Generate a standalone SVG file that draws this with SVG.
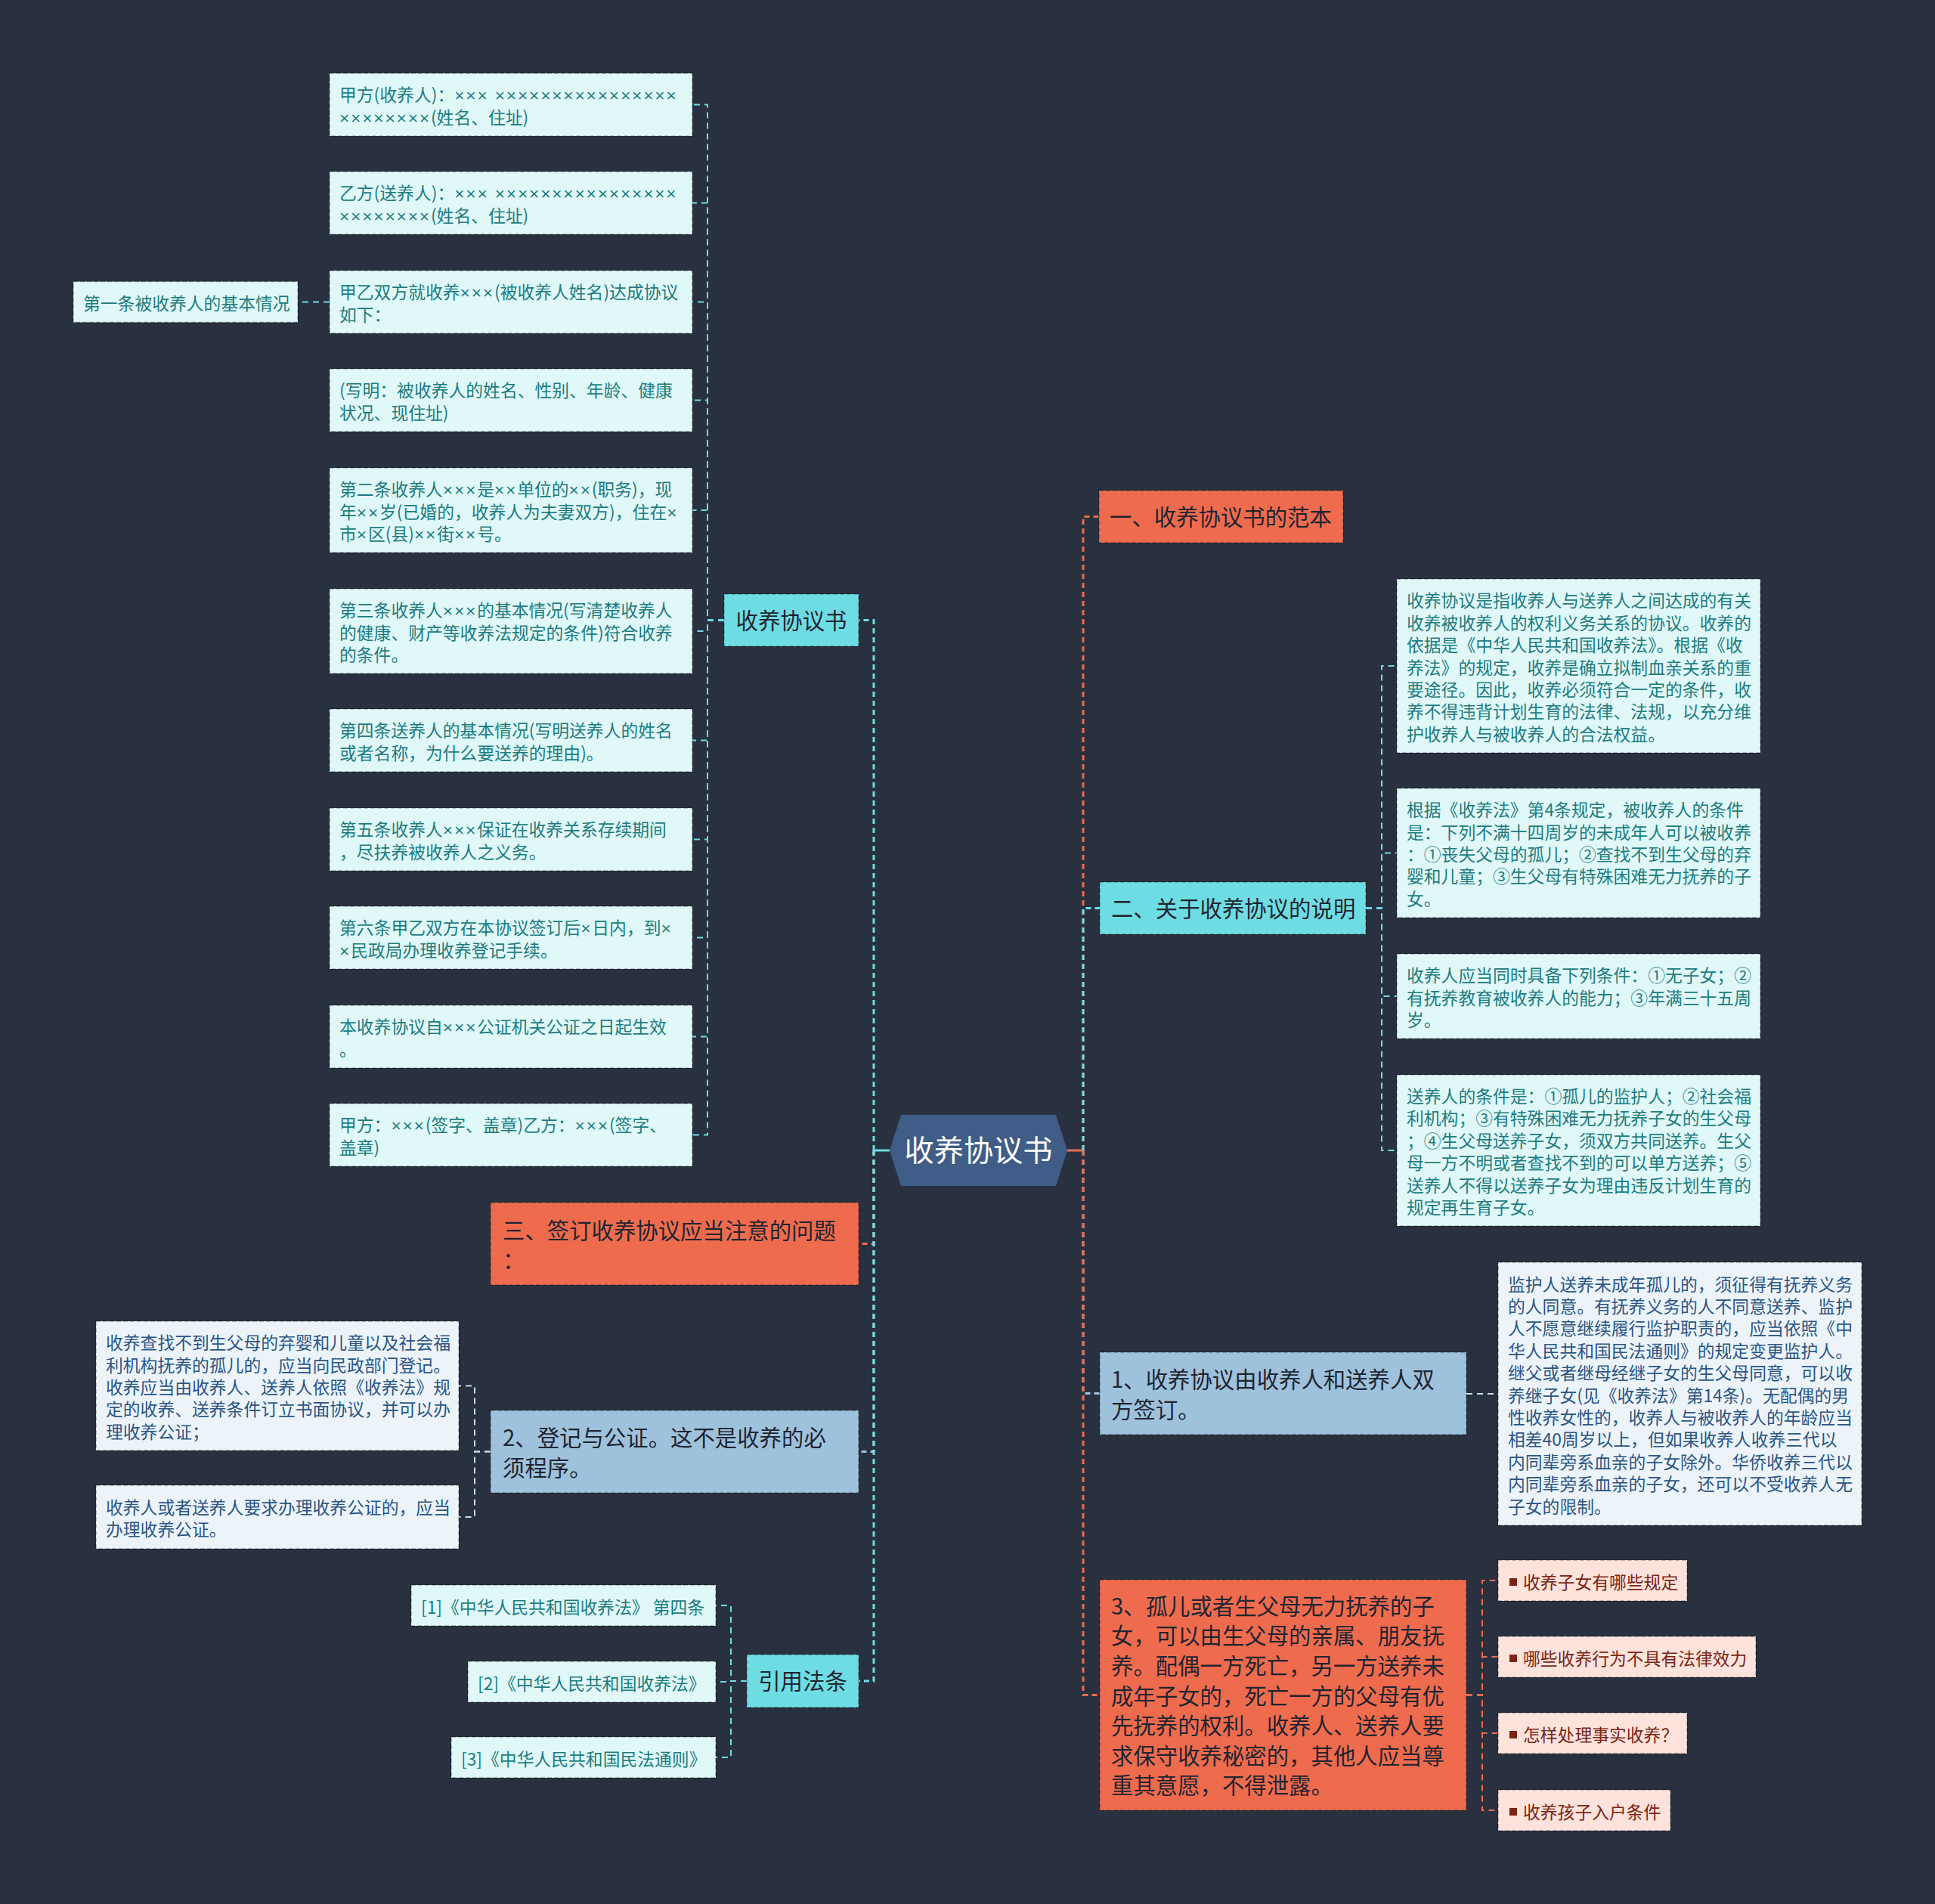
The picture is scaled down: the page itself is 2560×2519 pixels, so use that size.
<svg xmlns="http://www.w3.org/2000/svg" width="2560" height="2519" viewBox="0 0 2560 2519">
<style>
text{font-family:"Noto Sans CJK SC","Microsoft YaHei",sans-serif}
.x{font-family:"Liberation Sans",Arial,sans-serif;letter-spacing:1.8px}
.big{font-size:29.4px;fill:#1f2430}
.sm{font-size:22.8px}
.teal{fill:#1d7c80}
.navy{fill:#2b5586}
.red{fill:#7c2414}
.root{font-size:39.2px;fill:#ffffff}
.nb{stroke:#000;stroke-opacity:0.3;stroke-width:1.6;stroke-dasharray:6 3}
.cyan{fill:#6ddde3}
.orange{fill:#ee6b4e}
.bgray{fill:#9ec2dc}
.lcyan{fill:#e0f8f8}
.lblue{fill:#ecf4fa}
.pink{fill:#fde3db}
.c{fill:none;stroke-width:3;stroke-dasharray:7 5}
.s{fill:none;stroke-width:2;stroke-dasharray:8 6}
.kc{stroke:#6ddde3}
.ko{stroke:#ee6b4e}
.kb{stroke:#9ec2dc}
.kl{stroke:#c6dcec}
</style>
<rect width="2560" height="2519" fill="#293140"/>

<g id="connectors">
<line x1="1177" y1="1522" x2="1156" y2="1522" stroke="#6ddde3" stroke-width="3"/>
<line x1="1412" y1="1522" x2="1433" y2="1522" stroke="#ee6b4e" stroke-width="3"/>
<path class="c kc" d="M1156 1522 V820.5 H1136"/>
<path class="c ko" d="M1156 1522 V1645.5 H1136"/>
<path class="c kb" d="M1156 1522 V1920.5 H1136"/>
<path class="c kc" d="M1156 1522 V2224 H1136"/>
<path class="c ko" d="M1433 1522 V683.5 H1454"/>
<path class="c kc" d="M1433 1522 V1201.5 H1455"/>
<path class="c kb" d="M1433 1522 V1843.5 H1455"/>
<path class="c ko" d="M1433 1522 V2242.5 H1455"/>

<path class="s kc" d="M958 820.5 H936 V138.5 H916"/>
<path class="s kc" d="M958 820.5 H936 V268.5 H916"/>
<path class="s kc" d="M958 820.5 H936 V399.5 H916"/>
<path class="s kc" d="M958 820.5 H936 V529.5 H916"/>
<path class="s kc" d="M958 820.5 H936 V675 H916"/>
<path class="s kc" d="M958 820.5 H936 V835 H916"/>
<path class="s kc" d="M958 820.5 H936 V979.5 H916"/>
<path class="s kc" d="M958 820.5 H936 V1110.5 H916"/>
<path class="s kc" d="M958 820.5 H936 V1240.5 H916"/>
<path class="s kc" d="M958 820.5 H936 V1371.5 H916"/>
<path class="s kc" d="M958 820.5 H936 V1501.5 H916"/>
<path class="s kc" d="M436 399.5 H394"/>

<path class="s kl" d="M649 1920.5 H628 V1833.5 H607"/>
<path class="s kl" d="M649 1920.5 H628 V2007 H607"/>

<path class="s kc" d="M988 2224 H967 V2124 H947"/>
<path class="s kc" d="M988 2224 H967 V2225 H947"/>
<path class="s kc" d="M988 2224 H967 V2325 H947"/>

<path class="s kc" d="M1807 1201.5 H1828 V881 H1848"/>
<path class="s kc" d="M1807 1201.5 H1828 V1128.5 H1848"/>
<path class="s kc" d="M1807 1201.5 H1828 V1318 H1848"/>
<path class="s kc" d="M1807 1201.5 H1828 V1522 H1848"/>

<path class="s kl" d="M1940 1844 H1982"/>

<path class="s ko" d="M1940 2242.5 H1961 V2091 H1982"/>
<path class="s ko" d="M1940 2242.5 H1961 V2192 H1982"/>
<path class="s ko" d="M1940 2242.5 H1961 V2293 H1982"/>
<path class="s ko" d="M1940 2242.5 H1961 V2395 H1982"/>
</g>

<g id="root">
<polygon points="1177,1522 1192,1475 1397,1475 1412,1522 1397,1569 1192,1569" fill="#3f5d86"/>
<text class="root" x="1294.5" y="1536" text-anchor="middle">收养协议书</text>
</g>

<g id="n-xieyishu">
<rect class="cyan nb" x="958" y="786" width="178" height="69"/>
<text class="big" x="1047" y="831.5" text-anchor="middle">收养协议书</text>
</g>

<g id="n-l1">
<rect class="lcyan nb" x="436" y="97" width="480" height="83"/>
<text class="sm teal"><tspan x="449" y="134.3">甲方(收养人)：<tspan class="x">××× ××××××××××××××××</tspan></tspan><tspan x="449" y="163.7"><tspan class="x">××××××××</tspan>(姓名、住址)</tspan></text>
</g>
<g id="n-l2">
<rect class="lcyan nb" x="436" y="227" width="480" height="83"/>
<text class="sm teal"><tspan x="449" y="264.3">乙方(送养人)：<tspan class="x">××× ××××××××××××××××</tspan></tspan><tspan x="449" y="293.7"><tspan class="x">××××××××</tspan>(姓名、住址)</tspan></text>
</g>
<g id="n-l3">
<rect class="lcyan nb" x="436" y="358" width="480" height="83"/>
<text class="sm teal"><tspan x="449" y="395.3">甲乙双方就收养<tspan class="x">×××</tspan>(被收养人姓名)达成协议</tspan><tspan x="449" y="424.7">如下：</tspan></text>
</g>
<g id="n-l3a">
<rect class="lcyan nb" x="97" y="372.5" width="297" height="54"/>
<text class="sm teal" x="110" y="410">第一条被收养人的基本情况</text>
</g>
<g id="n-l4">
<rect class="lcyan nb" x="436" y="488" width="480" height="83"/>
<text class="sm teal"><tspan x="449" y="525.3">(写明：被收养人的姓名、性别、年龄、健康</tspan><tspan x="449" y="554.7">状况、现住址)</tspan></text>
</g>
<g id="n-l5">
<rect class="lcyan nb" x="436" y="619" width="480" height="112"/>
<text class="sm teal"><tspan x="449" y="656.1">第二条收养人<tspan class="x">×××</tspan>是<tspan class="x">××</tspan>单位的<tspan class="x">××</tspan>(职务)，现</tspan><tspan x="449" y="685.5">年<tspan class="x">××</tspan>岁(已婚的，收养人为夫妻双方)，住在<tspan class="x">×</tspan></tspan><tspan x="449" y="714.9">市<tspan class="x">×</tspan>区(县)<tspan class="x">××</tspan>街<tspan class="x">××</tspan>号。</tspan></text>
</g>
<g id="n-l6">
<rect class="lcyan nb" x="436" y="779" width="480" height="112"/>
<text class="sm teal"><tspan x="449" y="816.1">第三条收养人<tspan class="x">×××</tspan>的基本情况(写清楚收养人</tspan><tspan x="449" y="845.5">的健康、财产等收养法规定的条件)符合收养</tspan><tspan x="449" y="874.9">的条件。</tspan></text>
</g>
<g id="n-l7">
<rect class="lcyan nb" x="436" y="938" width="480" height="83"/>
<text class="sm teal"><tspan x="449" y="975.3">第四条送养人的基本情况(写明送养人的姓名</tspan><tspan x="449" y="1004.7">或者名称，为什么要送养的理由)。</tspan></text>
</g>
<g id="n-l8">
<rect class="lcyan nb" x="436" y="1069" width="480" height="83"/>
<text class="sm teal"><tspan x="449" y="1106.3">第五条收养人<tspan class="x">×××</tspan>保证在收养关系存续期间</tspan><tspan x="449" y="1135.7">，尽扶养被收养人之义务。</tspan></text>
</g>
<g id="n-l9">
<rect class="lcyan nb" x="436" y="1199" width="480" height="83"/>
<text class="sm teal"><tspan x="449" y="1236.3">第六条甲乙双方在本协议签订后<tspan class="x">×</tspan>日内，到<tspan class="x">×</tspan></tspan><tspan x="449" y="1265.7"><tspan class="x">×</tspan>民政局办理收养登记手续。</tspan></text>
</g>
<g id="n-l10">
<rect class="lcyan nb" x="436" y="1330" width="480" height="83"/>
<text class="sm teal"><tspan x="449" y="1367.3">本收养协议自<tspan class="x">×××</tspan>公证机关公证之日起生效</tspan><tspan x="449" y="1396.7">。</tspan></text>
</g>
<g id="n-l11">
<rect class="lcyan nb" x="436" y="1460" width="480" height="83"/>
<text class="sm teal"><tspan x="449" y="1497.3">甲方：<tspan class="x">×××</tspan>(签字、盖章)乙方：<tspan class="x">×××</tspan>(签字、</tspan><tspan x="449" y="1526.7">盖章)</tspan></text>
</g>

<g id="n-san">
<rect class="orange nb" x="649" y="1591" width="487" height="109"/>
<text class="big"><tspan x="665" y="1638.5">三、签订收养协议应当注意的问题</tspan><tspan x="665" y="1678">：</tspan></text>
</g>

<g id="n-er2">
<rect class="bgray nb" x="649" y="1866" width="487" height="109"/>
<text class="big"><tspan x="665" y="1913">2、登记与公证。这不是收养的必</tspan><tspan x="665" y="1952.5">须程序。</tspan></text>
</g>
<g id="n-er2a">
<rect class="lblue nb" x="127" y="1748" width="480" height="171"/>
<text class="sm navy"><tspan x="140" y="1785.2">收养查找不到生父母的弃婴和儿童以及社会福</tspan><tspan x="140" y="1814.6">利机构抚养的孤儿的，应当向民政部门登记。</tspan><tspan x="140" y="1844">收养应当由收养人、送养人依照《收养法》规</tspan><tspan x="140" y="1873.4">定的收养、送养条件订立书面协议，并可以办</tspan><tspan x="140" y="1902.8">理收养公证；</tspan></text>
</g>
<g id="n-er2b">
<rect class="lblue nb" x="127" y="1965" width="480" height="84"/>
<text class="sm navy"><tspan x="140" y="2002.8">收养人或者送养人要求办理收养公证的，应当</tspan><tspan x="140" y="2032.2">办理收养公证。</tspan></text>
</g>

<g id="n-ref">
<rect class="cyan nb" x="988" y="2189" width="148" height="70"/>
<text class="big" x="1062" y="2235" text-anchor="middle">引用法条</text>
</g>
<g id="n-ref1">
<rect class="lcyan nb" x="544" y="2097" width="403" height="54"/>
<text class="sm teal" x="557" y="2134.5">[1]《中华人民共和国收养法》 第四条</text>
</g>
<g id="n-ref2">
<rect class="lcyan nb" x="619" y="2198" width="328" height="54"/>
<text class="sm teal" x="632" y="2235.5">[2]《中华人民共和国收养法》</text>
</g>
<g id="n-ref3">
<rect class="lcyan nb" x="597" y="2298" width="350" height="54"/>
<text class="sm teal" x="610" y="2335.5">[3]《中华人民共和国民法通则》</text>
</g>

<g id="n-yi">
<rect class="orange nb" x="1454" y="649" width="323" height="69"/>
<text class="big" x="1468" y="694.5">一、收养协议书的范本</text>
</g>

<g id="n-er">
<rect class="cyan nb" x="1455" y="1167" width="352" height="69"/>
<text class="big" x="1470" y="1212.5">二、关于收养协议的说明</text>
</g>
<g id="n-era">
<rect class="lcyan nb" x="1848" y="766" width="481" height="230"/>
<text class="sm teal"><tspan x="1861" y="803.3">收养协议是指收养人与送养人之间达成的有关</tspan><tspan x="1861" y="832.7">收养被收养人的权利义务关系的协议。收养的</tspan><tspan x="1861" y="862.1">依据是《中华人民共和国收养法》。根据《收</tspan><tspan x="1861" y="891.5">养法》的规定，收养是确立拟制血亲关系的重</tspan><tspan x="1861" y="920.9">要途径。因此，收养必须符合一定的条件，收</tspan><tspan x="1861" y="950.3">养不得违背计划生育的法律、法规，以充分维</tspan><tspan x="1861" y="979.7">护收养人与被收养人的合法权益。</tspan></text>
</g>
<g id="n-erb">
<rect class="lcyan nb" x="1848" y="1043" width="481" height="171"/>
<text class="sm teal"><tspan x="1861" y="1080.2">根据《收养法》第4条规定，被收养人的条件</tspan><tspan x="1861" y="1109.6">是：下列不满十四周岁的未成年人可以被收养</tspan><tspan x="1861" y="1139">：①丧失父母的孤儿；②查找不到生父母的弃</tspan><tspan x="1861" y="1168.4">婴和儿童；③生父母有特殊困难无力抚养的子</tspan><tspan x="1861" y="1197.8">女。</tspan></text>
</g>
<g id="n-erc">
<rect class="lcyan nb" x="1848" y="1262" width="481" height="112"/>
<text class="sm teal"><tspan x="1861" y="1299.1">收养人应当同时具备下列条件：①无子女；②</tspan><tspan x="1861" y="1328.5">有抚养教育被收养人的能力；③年满三十五周</tspan><tspan x="1861" y="1357.9">岁。</tspan></text>
</g>
<g id="n-erd">
<rect class="lcyan nb" x="1848" y="1422" width="481" height="200"/>
<text class="sm teal"><tspan x="1861" y="1459">送养人的条件是：①孤儿的监护人；②社会福</tspan><tspan x="1861" y="1488.4">利机构；③有特殊困难无力抚养子女的生父母</tspan><tspan x="1861" y="1517.8">；④生父母送养子女，须双方共同送养。生父</tspan><tspan x="1861" y="1547.2">母一方不明或者查找不到的可以单方送养；⑤</tspan><tspan x="1861" y="1576.6">送养人不得以送养子女为理由违反计划生育的</tspan><tspan x="1861" y="1606">规定再生育子女。</tspan></text>
</g>

<g id="n-one">
<rect class="bgray nb" x="1455" y="1789" width="485" height="109"/>
<text class="big"><tspan x="1470" y="1836">1、收养协议由收养人和送养人双</tspan><tspan x="1470" y="1875.5">方签订。</tspan></text>
</g>
<g id="n-onea">
<rect class="lblue nb" x="1982" y="1670" width="481" height="348"/>
<text class="sm navy"><tspan x="1995" y="1707.5">监护人送养未成年孤儿的，须征得有抚养义务</tspan><tspan x="1995" y="1736.9">的人同意。有抚养义务的人不同意送养、监护</tspan><tspan x="1995" y="1766.3">人不愿意继续履行监护职责的，应当依照《中</tspan><tspan x="1995" y="1795.7">华人民共和国民法通则》的规定变更监护人。</tspan><tspan x="1995" y="1825.1">继父或者继母经继子女的生父母同意，可以收</tspan><tspan x="1995" y="1854.5">养继子女(见《收养法》第14条)。无配偶的男</tspan><tspan x="1995" y="1883.9">性收养女性的，收养人与被收养人的年龄应当</tspan><tspan x="1995" y="1913.3">相差40周岁以上，但如果收养人收养三代以</tspan><tspan x="1995" y="1942.7">内同辈旁系血亲的子女除外。华侨收养三代以</tspan><tspan x="1995" y="1972.1">内同辈旁系血亲的子女，还可以不受收养人无</tspan><tspan x="1995" y="2001.5">子女的限制。</tspan></text>
</g>

<g id="n-three">
<rect class="orange nb" x="1455" y="2090" width="485" height="305"/>
<text class="big"><tspan x="1470" y="2135.7">3、孤儿或者生父母无力抚养的子</tspan><tspan x="1470" y="2175.3">女，可以由生父母的亲属、朋友抚</tspan><tspan x="1470" y="2214.9">养。配偶一方死亡，另一方送养未</tspan><tspan x="1470" y="2254.5">成年子女的，死亡一方的父母有优</tspan><tspan x="1470" y="2294.1">先抚养的权利。收养人、送养人要</tspan><tspan x="1470" y="2333.7">求保守收养秘密的，其他人应当尊</tspan><tspan x="1470" y="2373.3">重其意愿，不得泄露。</tspan></text>
</g>
<g id="n-p1">
<rect class="pink nb" x="1982" y="2064" width="250" height="54"/>
<rect x="1997" y="2088" width="10" height="10" fill="#7c2414"/>
<text class="sm red" x="2015" y="2101.5">收养子女有哪些规定</text>
</g>
<g id="n-p2">
<rect class="pink nb" x="1982" y="2165" width="341" height="54"/>
<rect x="1997" y="2189" width="10" height="10" fill="#7c2414"/>
<text class="sm red" x="2015" y="2202.5">哪些收养行为不具有法律效力</text>
</g>
<g id="n-p3">
<rect class="pink nb" x="1982" y="2266" width="250" height="54"/>
<rect x="1997" y="2290" width="10" height="10" fill="#7c2414"/>
<text class="sm red" x="2015" y="2303.5">怎样处理事实收养？</text>
</g>
<g id="n-p4">
<rect class="pink nb" x="1982" y="2368" width="228" height="54"/>
<rect x="1997" y="2392" width="10" height="10" fill="#7c2414"/>
<text class="sm red" x="2015" y="2405.5">收养孩子入户条件</text>
</g>
</svg>
